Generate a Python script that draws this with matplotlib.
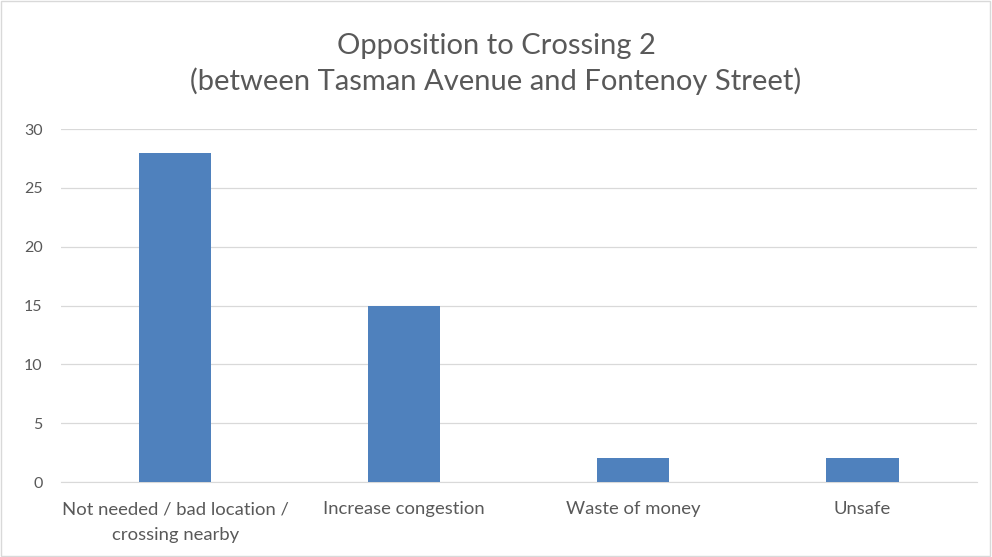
import matplotlib
matplotlib.use("Agg")
import matplotlib.pyplot as plt
from matplotlib.patches import Rectangle

categories = ["Not needed / bad location /\ncrossing nearby", "Increase congestion",
              "Waste of money", "Unsafe"]
values = [28, 15, 2, 2]
yticks = [0, 5, 10, 15, 20, 25, 30]

plt.rcParams['font.family'] = ['Lato', 'DejaVu Sans']
text_col = '#595959'

fig = plt.figure(figsize=(9.92, 5.57), dpi=100)
ax = fig.add_axes([0.061, 0.1346, 0.924, 0.6338])

x = range(len(categories))
ax.bar(x, values, width=0.315, color='#4F81BD', zorder=3)

ax.set_xlim(-0.5, len(categories) - 0.5)
ax.set_ylim(0, 30)
ax.set_yticks(yticks)
ax.set_xticks(list(x))
ax.set_xticklabels(categories, fontsize=13.3, color=text_col, linespacing=1.7)
ax.tick_params(axis='y', labelsize=11.5, labelcolor=text_col, length=0, pad=13)
ax.tick_params(axis='x', length=0, pad=14)
ax.grid(axis='y', color='#D9D9D9', linewidth=0.9, zorder=0)
for s in ['top', 'right', 'left']:
    ax.spines[s].set_visible(False)
ax.spines['bottom'].set_color('#D9D9D9')

fig.text(0.5, 0.918, "Opposition to Crossing 2", ha='center', va='center',
         fontsize=21, color=text_col)
fig.text(0.5, 0.854, "(between Tasman Avenue and Fontenoy Street)", ha='center',
         va='center', fontsize=21, color=text_col)

fig.patches.append(Rectangle((0.001, 0.001), 0.997, 0.997, transform=fig.transFigure,
                             fill=False, edgecolor='#D9D9D9', linewidth=1))

fig.savefig("out.png", dpi=100, facecolor='white')
